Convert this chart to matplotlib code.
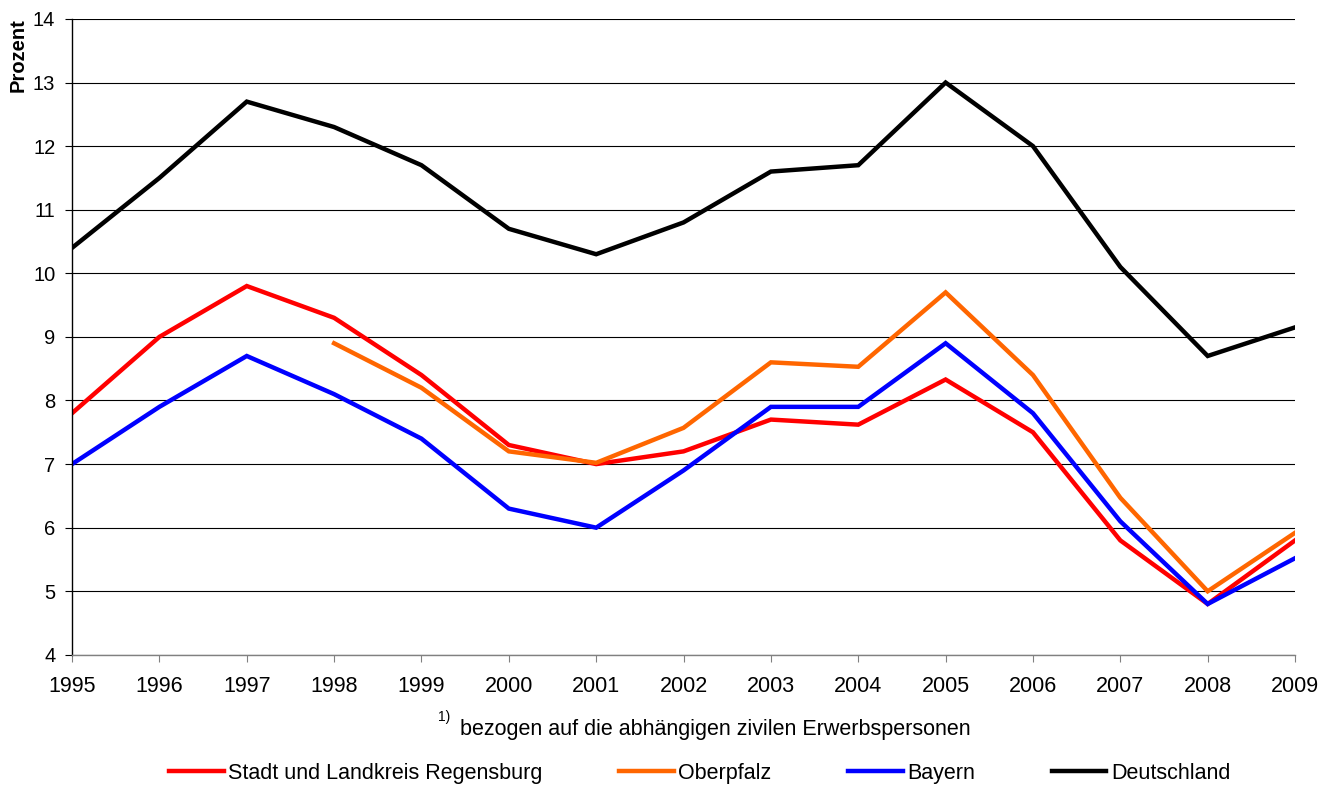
import numpy as np
import matplotlib
matplotlib.use("Agg")
import matplotlib.pyplot as plt

plt.rcParams['font.family'] = ['Liberation Sans', 'DejaVu Sans']

years = list(range(1995, 2010))
regensburg = [7.8, 9.0, 9.8, 9.3, 8.4, 7.3, 7.0, 7.2, 7.7, 7.62, 8.33, 7.5, 5.8, 4.8, 5.8]
oberpfalz = [np.nan, np.nan, np.nan, 8.9, 8.2, 7.2, 7.02, 7.57, 8.6, 8.53, 9.7, 8.4, 6.47, 5.0, 5.92]
bayern = [7.0, 7.9, 8.7, 8.1, 7.4, 6.3, 6.0, 6.9, 7.9, 7.9, 8.9, 7.8, 6.1, 4.8, 5.52]
deutschland = [10.4, 11.5, 12.7, 12.3, 11.7, 10.7, 10.3, 10.8, 11.6, 11.7, 13.0, 12.0, 10.1, 8.7, 9.15]

series = [
    ("Stadt und Landkreis Regensburg", regensburg, "#ff0000"),
    ("Oberpfalz", oberpfalz, "#ff6600"),
    ("Bayern", bayern, "#0000ff"),
    ("Deutschland", deutschland, "#000000"),
]

fig = plt.figure(figsize=(13.34, 7.89), dpi=100)
ax = fig.add_axes([0.054, 0.170, 0.9168, 0.806])

for name, vals, col in series:
    ax.plot(years, vals, color=col, lw=3.2, label=name, solid_joinstyle='miter')

ax.set_xlim(1995, 2009)
ax.set_ylim(4, 14)
ax.set_xticks(years)
ax.set_yticks(range(4, 15))
ax.grid(axis='y', color='black', lw=0.8)
ax.set_axisbelow(True)
for s in ('top', 'right'):
    ax.spines[s].set_visible(False)
ax.spines['left'].set_linewidth(1.0)
ax.spines['bottom'].set_color('#808080')
ax.spines['bottom'].set_linewidth(1.0)
ax.tick_params(axis='both', direction='out', length=5)
ax.tick_params(axis='x', colors='#808080', labelcolor='black', labelsize=15.5, pad=10)
ax.tick_params(axis='y', labelsize=14.5, pad=7)

fig.text(0.0135, 0.977, "Prozent", rotation=90, ha='center', va='top',
         fontsize=14.5, fontweight='bold')

fig.text(0.3285, 0.082, "1)", fontsize=10, ha='left', va='bottom')
fig.text(0.345, 0.076, "bezogen auf die abhängigen zivilen Erwerbspersonen",
         fontsize=15.5, ha='left', va='center')

fig.legend(loc='center', bbox_to_anchor=(0.5245, 0.020), ncol=4, frameon=False,
           fontsize=15.5, handlelength=2.55, handletextpad=0.2, columnspacing=3.55)

fig.savefig("out.png", dpi=100)
